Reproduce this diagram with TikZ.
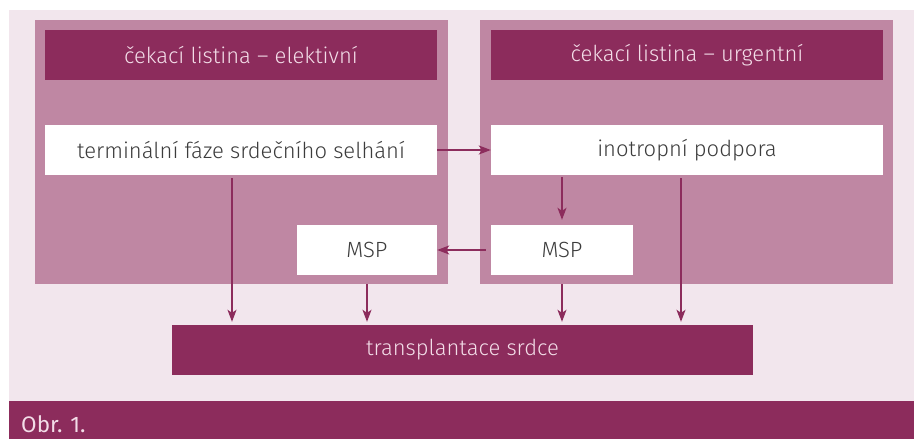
\documentclass[tikz,border=0pt]{standalone}
\usepackage{fontspec}
\setmainfont{Fira Sans}[UprightFont=* Light]
\newfontfamily\regfont{Fira Sans}
\usetikzlibrary{arrows.meta}
\definecolor{dark}{HTML}{8C2C5C}
\definecolor{panelc}{HTML}{BF87A3}
\definecolor{bgc}{HTML}{F2E6ED}
\definecolor{lighttext}{HTML}{F3DDE8}
\definecolor{graytext}{HTML}{3C3C3C}
\tikzset{
  panel/.style={fill=panelc, inner sep=0pt, minimum width=413pt, minimum height=264pt},
  header/.style={fill=dark, text=lighttext, inner sep=0pt, minimum height=50pt, font=\fontsize{22}{26}\selectfont},
  whitebox/.style={fill=white, text=graytext, inner sep=0pt, minimum height=50pt, font=\fontsize{22}{26}\selectfont},
  conn/.style={draw=dark, line width=1.4pt, -{Stealth[length=12pt,width=9pt,inset=3pt]}}
}
\begin{document}
\begin{tikzpicture}[x=1pt,y=-1pt]
\useasboundingbox (0,0) rectangle (914,439);
\fill[bgc] (9,10) rectangle (914,439);
\node[fill=dark, inner sep=0pt, minimum width=905pt, minimum height=38pt] (bar) at (461.5,420) {};
\node[text=lighttext, anchor=base west, inner sep=0pt, font=\regfont\fontsize{22.5}{26}\selectfont] (obr) at (21,432) {Obr. 1.};
\node[panel] (lp) at (241.5,152) {};
\node[panel] (rp) at (686.5,152) {};
\node[header, minimum width=392pt] (lh) at (241,55) {čekací listina – elektivní};
\node[header, minimum width=392pt] (rh) at (687,55) {čekací listina – urgentní};
\node[whitebox, minimum width=392pt] (term) at (241,150) {terminální fáze srdečního selhání};
\node[whitebox, minimum width=392pt] (ino) at (687,150) {inotropní podpora};
\node[whitebox, minimum width=140pt] (lmsp) at (367,250) {MSP};
\node[whitebox, minimum width=142pt] (rmsp) at (562,250) {MSP};
\node[header, minimum width=581pt] (tx) at (462.5,350) {transplantace srdce};
\coordinate (c1) at (232,0);
\coordinate (c2) at (681,0);
\draw[conn] (term.east) -- (ino.west);
\draw[conn, shorten <=5pt] (rmsp.west) -- (lmsp.east);
\draw[conn, shorten <=3pt, shorten >=3pt] (term.south -| c1) -- (tx.north -| c1);
\draw[conn, shorten <=9pt, shorten >=3pt] (lmsp.south) -- (tx.north -| lmsp.south);
\draw[conn, shorten <=9pt, shorten >=3pt] (rmsp.south) -- (tx.north -| rmsp.south);
\draw[conn, shorten <=2pt, shorten >=5pt] (ino.south -| rmsp.north) -- (rmsp.north);
\draw[conn, shorten <=3pt, shorten >=3pt] (ino.south -| c2) -- (tx.north -| c2);
\end{tikzpicture}
\end{document}
